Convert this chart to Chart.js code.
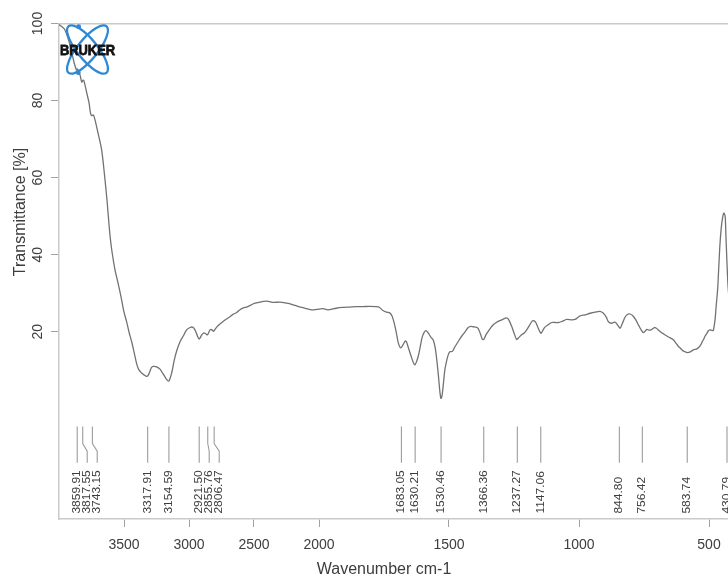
<!DOCTYPE html>
<html>
<head>
<meta charset="utf-8">
<script src="https://cdn.jsdelivr.net/npm/chart.js@4.4.1/dist/chart.umd.min.js"></script>
<style>
  html, body { margin: 0; padding: 0; background: #ffffff; overflow: hidden; }
  #frame { width: 728px; height: 580px; overflow: hidden; position: relative; }
  canvas { display: block; }
</style>
</head>
<body>
<div id="frame"><canvas id="ir" width="760" height="580"></canvas></div>
<script>
// IR spectrum: wavenumber (cm-1) and transmittance (%)
const wavenumbers = [
  4000, 3979, 3954, 3915, 3885, 3865, 3858, 3838, 3825, 3815,
  3808, 3788, 3769, 3758, 3750, 3736, 3723, 3700, 3672, 3646,
  3631, 3608, 3592, 3569, 3546, 3518, 3500, 3479, 3462, 3441,
  3423, 3402, 3385, 3364, 3346, 3325, 3312, 3300, 3289, 3275,
  3249, 3223, 3204, 3185, 3169, 3159, 3150, 3133, 3115, 3095,
  3069, 3044, 3018, 2992, 2973, 2954, 2935, 2921, 2902, 2885,
  2869, 2858, 2838, 2823, 2812, 2787, 2762, 2736, 2712, 2685,
  2662, 2633, 2608, 2582, 2558, 2531, 2508, 2479, 2454, 2429,
  2390, 2352, 2300, 2249, 2210, 2172, 2133, 2095, 2056, 2018,
  1985, 1966, 1934, 1909, 1882, 1857, 1831, 1805, 1780, 1767,
  1754, 1740, 1728, 1719, 1709, 1701, 1695, 1686, 1677, 1668,
  1663, 1656, 1645, 1636, 1631, 1624, 1618, 1611, 1603, 1595,
  1588, 1580, 1570, 1561, 1553, 1547, 1541, 1535, 1531, 1527,
  1522, 1516, 1510, 1503, 1497, 1487, 1478, 1465, 1455, 1446,
  1435, 1426, 1416, 1407, 1397, 1388, 1379, 1372, 1366, 1358,
  1349, 1341, 1330, 1318, 1304, 1291, 1278, 1270, 1259, 1250,
  1240, 1233, 1221, 1212, 1201, 1191, 1181, 1175, 1167, 1161,
  1152, 1146, 1138, 1131, 1119, 1105, 1092, 1079, 1065, 1047,
  1028, 1015, 996, 977, 957, 938, 919, 906, 895, 887,
  874, 865, 859, 849, 842, 834, 822, 811, 803, 792,
  780, 770, 761, 753, 745, 739, 732, 723, 714, 707,
  697, 687, 674, 662, 649, 637, 629, 619, 610, 601,
  592, 583, 574, 567, 560, 549, 540, 532, 526, 521,
  515, 508, 503, 497, 491, 484, 480, 476, 472, 467,
  462, 458, 453, 448, 443, 438, 435, 431, 427, 423,
  418, 410, 400
];
const transmittance = [
  99.7, 99.2, 98.3, 94.4, 90.0, 87.9, 88.2, 86.6, 84.8, 85.3,
  85.1, 82.2, 79.4, 76.8, 76.1, 76.3, 75.0, 71.6, 67.2, 59.4,
  54.2, 45.1, 40.7, 36.0, 32.7, 28.2, 25.1, 22.5, 20.0, 17.4,
  14.8, 11.6, 10.1, 9.3, 8.8, 8.4, 8.8, 9.8, 10.7, 11.0,
  10.9, 10.3, 9.3, 8.3, 7.5, 7.2, 7.5, 9.3, 12.4, 15.0,
  17.4, 18.9, 20.5, 21.1, 21.2, 20.5, 18.9, 18.1, 19.2, 19.7,
  19.4, 19.2, 20.5, 20.5, 20.1, 21.2, 22.0, 22.7, 23.3, 23.9,
  24.5, 25.0, 25.7, 26.2, 26.4, 26.8, 27.2, 27.5, 27.7, 27.9,
  27.9, 27.6, 27.7, 27.4, 27.1, 26.7, 26.3, 26.0, 25.7, 25.8,
  26.0, 25.7, 26.1, 26.3, 26.4, 26.5, 26.5, 26.6, 26.5, 26.3,
  25.5, 25.1, 24.9, 24.1, 21.8, 19.2, 17.1, 15.8, 16.6, 17.6,
  17.3, 15.8, 13.5, 11.8, 11.4, 12.4, 13.7, 16.0, 18.6, 19.9,
  20.3, 19.7, 18.6, 17.9, 15.8, 12.7, 8.8, 4.4, 2.7, 3.3,
  6.2, 10.1, 12.2, 14.0, 14.8, 14.9, 16.0, 17.4, 18.5, 19.3,
  20.3, 21.1, 21.4, 21.3, 21.2, 20.9, 19.4, 18.1, 18.0, 19.2,
  20.1, 20.9, 21.8, 22.4, 22.9, 23.3, 23.6, 23.1, 21.4, 19.7,
  18.0, 18.4, 19.2, 19.6, 20.5, 21.6, 22.7, 22.9, 22.5, 21.6,
  20.2, 19.6, 20.5, 21.2, 21.8, 22.4, 22.4, 22.4, 22.7, 23.2,
  23.1, 23.2, 24.1, 24.4, 24.8, 25.1, 25.3, 24.8, 23.8, 22.6,
  22.2, 22.5, 22.4, 21.5, 20.9, 22.0, 23.9, 24.6, 24.6, 24.1,
  22.9, 21.6, 20.5, 19.8, 20.2, 20.6, 20.4, 20.5, 20.9, 21.1,
  20.6, 20.0, 19.4, 18.9, 18.4, 17.9, 17.2, 16.3, 15.7, 15.1,
  14.8, 14.6, 14.7, 15.0, 15.3, 15.5, 15.9, 16.6, 17.4, 18.0,
  18.9, 19.6, 20.2, 20.5, 20.4, 20.3, 21.5, 23.6, 27.0, 30.8,
  37.3, 42.5, 46.9, 49.5, 50.8, 50.0, 45.1, 38.1, 32.1, 28.8,
  26.0, 25.0, 27.0
];
// picked absorption bands (cm-1)
const peakWavenumbers = [
  3859.91, 3817.55, 3743.15, 3317.91, 3154.59, 2921.50, 2855.76, 2806.47,
  1683.05, 1630.21, 1530.46, 1366.36, 1237.27, 1147.06, 844.80, 756.42,
  583.74, 430.79
];
const xTickValues = [3500, 3000, 2500, 2000, 1500, 1000, 500];
const yTickValues = [20, 40, 60, 80, 100];

// The wavenumber axis is expanded 2x below 2000 cm-1 (usual FT-IR layout)
const BREAK = 2000;
const toAxis = wn => (wn >= BREAK ? wn : BREAK - 2 * (BREAK - wn));
const fromAxis = u => (u >= BREAK ? u : BREAK - (BREAK - u) / 2);

const FONT = "'Liberation Sans', Arial, Helvetica, sans-serif";
const TEXT = '#3d3d3d';
const FRAME = '#cacaca';

const points = wavenumbers.map((w, i) => ({ x: toAxis(w), y: transmittance[i] }));

const peakLabels = {
  id: 'peakLabels',
  afterDatasetsDraw(chart) {
    const { ctx, scales: { x, y } } = chart;
    const gap = 10;
    const bands = peakWavenumbers.slice().sort((a, b) => b - a);
    const truePx = bands.map(w => x.getPixelForValue(toAxis(w)));
    const labelPx = [];
    truePx.forEach((px, i) => labelPx.push(i === 0 ? px : Math.max(px, labelPx[i - 1] + gap)));
    const yTop = y.getPixelForValue(-4.6);
    const yBendA = y.getPixelForValue(-9);
    const yBendB = y.getPixelForValue(-11);
    const yBottom = y.getPixelForValue(-14);
    const yText = y.getPixelForValue(-27.2);
    ctx.save();
    ctx.strokeStyle = '#9c9c9c';
    ctx.lineWidth = 1.1;
    bands.forEach((w, i) => {
      const a = truePx[i], b = labelPx[i];
      ctx.beginPath();
      ctx.moveTo(a, yTop);
      if (Math.abs(b - a) > 0.5) {
        ctx.lineTo(a, yBendA);
        ctx.lineTo(b, yBendB);
      }
      ctx.lineTo(b, yBottom);
      ctx.stroke();
    });
    ctx.fillStyle = TEXT;
    ctx.font = '11px ' + FONT;
    ctx.textAlign = 'left';
    ctx.textBaseline = 'middle';
    bands.forEach((w, i) => {
      ctx.save();
      ctx.translate(labelPx[i], yText);
      ctx.rotate(-Math.PI / 2);
      ctx.scale(1.09, 1);
      ctx.fillText(w.toFixed(2), 0, 0);
      ctx.restore();
    });
    ctx.restore();
  },
  afterDraw(chart) {
    const { ctx } = chart;
    ctx.save();
    // axis titles
    ctx.fillStyle = TEXT;
    ctx.font = '16px ' + FONT;
    ctx.textAlign = 'center';
    ctx.textBaseline = 'alphabetic';
    ctx.fillText('Wavenumber cm-1', 384, 573.5);
    ctx.save();
    ctx.translate(25, 212);
    ctx.rotate(-Math.PI / 2);
    ctx.fillText('Transmittance [%]', 0, 0);
    ctx.restore();

    // BRUKER mark
    const cx = 87.5, cy = 49.5;
    ctx.strokeStyle = '#2e88d6';
    ctx.fillStyle = '#2e88d6';
    ctx.lineWidth = 2.3;
    [51, -51].forEach(deg => {
      ctx.beginPath();
      ctx.ellipse(cx, cy, 30, 10, deg * Math.PI / 180, 0, Math.PI * 2);
      ctx.stroke();
    });
    [[78.7, 26.7], [78.3, 72.7]].forEach(([px, py]) => {
      ctx.beginPath();
      ctx.arc(px, py, 2.4, 0, Math.PI * 2);
      ctx.fill();
    });
    ctx.save();
    ctx.translate(cx, cy + 1);
    ctx.scale(0.86, 1);
    ctx.fillStyle = '#111111';
    ctx.strokeStyle = '#111111';
    ctx.lineWidth = 0.8;
    ctx.font = 'bold 15px ' + FONT;
    ctx.textAlign = 'center';
    ctx.textBaseline = 'middle';
    ctx.fillText('BRUKER', 0, 0);
    ctx.strokeText('BRUKER', 0, 0);
    ctx.restore();
    ctx.restore();
  }
};

new Chart(document.getElementById('ir'), {
  type: 'line',
  data: {
    datasets: [{
      data: points,
      borderColor: '#727272',
      borderWidth: 1.3,
      pointRadius: 0,
      tension: 0.3,
      fill: false
    }]
  },
  options: {
    responsive: false,
    animation: false,
    devicePixelRatio: 1,
    parsing: false,
    layout: { padding: { top: 23.5, right: 25, left: 0, bottom: 0 } },
    plugins: { legend: { display: false }, tooltip: { enabled: false } },
    scales: {
      x: {
        type: 'linear',
        position: 'bottom',
        reverse: true,
        min: toAxis(400),
        max: 4000,
        afterBuildTicks: s => { s.ticks = xTickValues.map(v => ({ value: toAxis(v) })); },
        afterFit: s => { s.height = 61; },
        ticks: {
          callback: v => String(Math.round(fromAxis(v))),
          color: TEXT,
          font: { family: FONT, size: 14 },
          padding: 10,
          maxRotation: 0,
          autoSkip: false
        },
        grid: { drawOnChartArea: false, tickLength: 8, color: '#a0a0a0', lineWidth: 1 },
        border: { color: FRAME, width: 1.5 }
      },
      xTop: {
        type: 'linear',
        position: 'top',
        reverse: true,
        min: toAxis(400),
        max: 4000,
        afterFit: s => { s.height = 0; },
        ticks: { display: false },
        grid: { display: false, drawTicks: false },
        border: { color: FRAME, width: 1.5 }
      },
      y: {
        type: 'linear',
        position: 'left',
        min: -28.6,
        max: 100,
        afterBuildTicks: s => { s.ticks = yTickValues.map(v => ({ value: v })); },
        afterFit: s => { s.width = 59; },
        ticks: {
          minRotation: 90,
          maxRotation: 90,
          crossAlign: 'center',
          padding: 1,
          color: TEXT,
          font: { family: FONT, size: 14 }
        },
        grid: { drawOnChartArea: false, tickLength: 8, color: '#a0a0a0', lineWidth: 1 },
        border: { color: FRAME, width: 1.5 }
      }
    }
  },
  plugins: [peakLabels]
});
</script>
</body>
</html>
